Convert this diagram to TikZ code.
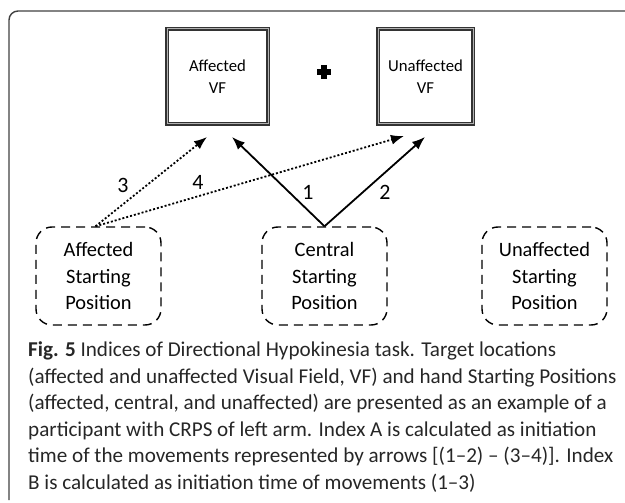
\documentclass[tikz,border=0pt]{standalone}
\usepackage{fontspec}
\setmainfont{Carlito}
\usetikzlibrary{arrows.meta}

\begin{document}
\begin{tikzpicture}[x=1bp,y=-1bp,
  vfbox/.style={draw=black!80,double=black!30,double distance=1bp,line width=1.6bp,minimum height=95bp,align=center,font=\fontsize{16.8}{22}\selectfont},
  spbox/.style={draw,dash pattern=on 9bp off 6bp,line width=1.4bp,rounded corners=16bp,minimum width=125bp,minimum height=98bp,align=center,font=\fontsize{20.5}{27}\selectfont},
  mv/.style={-{Latex[length=13bp,width=10bp]},line width=1.8bp},
  dt/.style={mv,dash pattern=on 2bp off 2bp},
  num/.style={font=\fontsize{22}{22}\selectfont}]
\useasboundingbox (0,0) rectangle (625,503);
\draw[line width=1.4bp,black!75,rounded corners=9bp] (9,500) -- (9,11) -- (625,11);
% target boxes
\node[vfbox,minimum width=101bp] (avf) at (217.5,76.5){Affected\\VF};
\node[vfbox,minimum width=95bp] (uvf) at (425.5,76.5){Unaffected\\VF};
\draw[line width=5.5bp] (317,72) -- (331,72) (324,65) -- (324,79);
% starting positions
\foreach \x/\n/\lab in {98.5/asp/Affected,324.5/csp/Central,544.5/usp/Unaffected}{\node[spbox] (\n) at (\x,276){\lab\\Starting\\Position};}
\coordinate (t3) at (207,137);\coordinate (t1) at (232,137);\coordinate (t4) at (404,136);\coordinate (t2) at (425,137);
\draw[mv] (csp.north) -- (t1);\draw[mv] (csp.north) -- (t2);
\draw[dt] ([xshift=-3bp]asp.north) -- (t3);\draw[dt] ([xshift=-3bp]asp.north) -- (t4);
\foreach \x/\y/\lab in {308/192/1,385/192/2,123/185/3,198/182/4}{\node[num] (n\lab) at (\x,\y){\lab};}
% caption
\node[anchor=base west,inner sep=0,align=left,text=black!85,font=\fontsize{21.2}{26.6}\selectfont] (cap) at (28,489){\textbf{Fig. 5} Indices of Directional Hypokinesia task. Target locations\\(affected and unaffected Visual Field, VF) and hand Starting Positions\\(affected, central, and unaffected) are presented as an example of a\\participant with CRPS of left arm. Index A is calculated as initiation\\time of the movements represented by arrows [(1--2) -- (3--4)]. Index\\B is calculated as initiation time of movements (1--3)};
\end{tikzpicture}
\end{document}
